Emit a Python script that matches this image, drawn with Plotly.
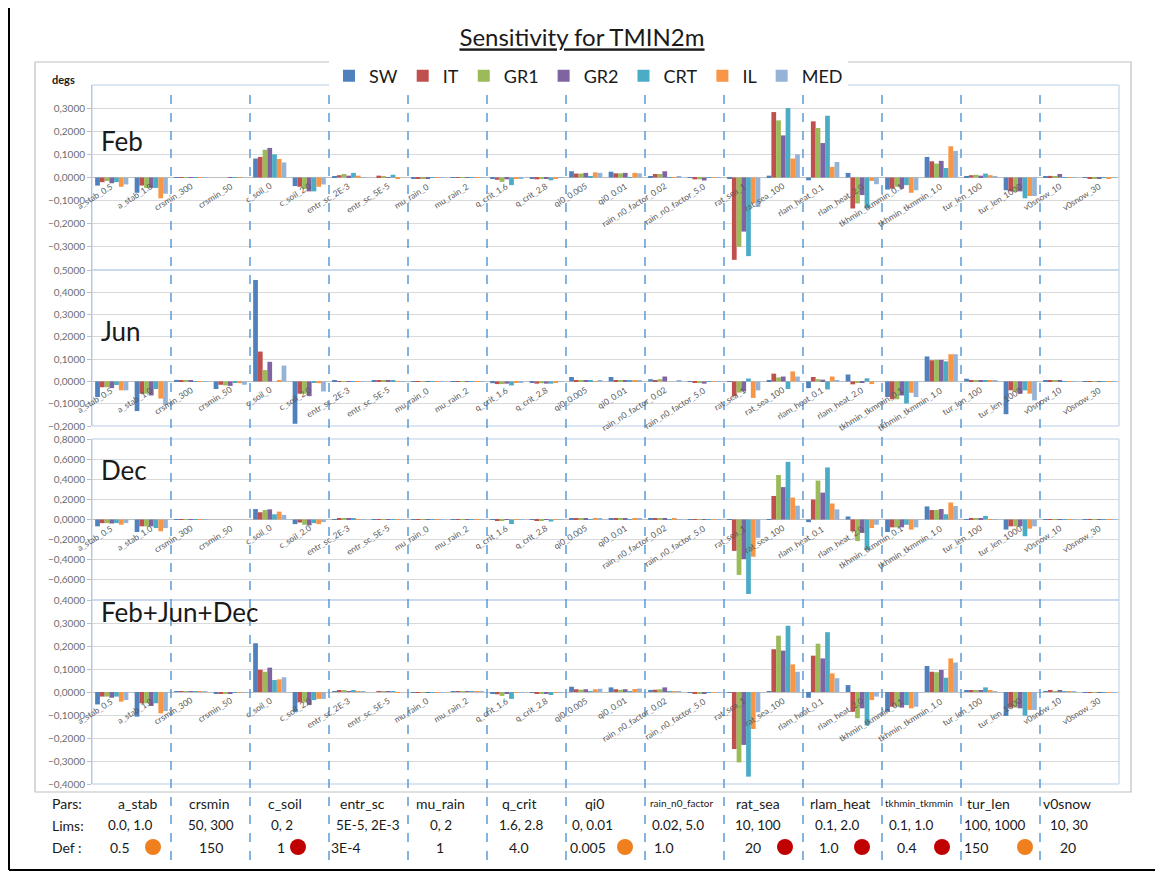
import plotly.graph_objects as go

# the page body has an 8px margin, so the figure is a bit smaller than the window
OFF = 8
FW, FH = 1163 - OFF, 874 - OFF

CATEGORIES = ["a_stab_0.5", "a_stab_1.0", "crsmin_300", "crsmin_50", "c_soil_0", "c_soil_2.0",
              "entr_sc_2E-3", "entr_sc_5E-5", "mu_rain_0", "mu_rain_2", "q_crit_1.6", "q_crit_2.8",
              "qi0_0.005", "qi0_0.01", "rain_n0_factor_0.02", "rain_n0_factor_5.0", "rat_sea_1",
              "rat_sea_100", "rlam_heat_0.1", "rlam_heat_2.0", "tkhmin_tkmmin_0.1", "tkhmin_tkmmin_1.0",
              "tur_len_100", "tur_len_1000", "v0snow_10", "v0snow_30"]
SERIES = ["SW", "IT", "GR1", "GR2", "CRT", "IL", "MED"]
COLORS = ["#4F81BD", "#C0504D", "#9BBB59", "#8064A2", "#4BACC6", "#F79646", "#95B3D7"]

# Feb
FEB_SW = [-0.035, -0.066, 0.002, 0.0, 0.082, -0.037, 0.003, 0.0, -0.003, 0.001, -0.005, -0.003, 0.027, 0.025, 0.004, -0.002, -0.005, 0.008, -0.012, 0.020, -0.052, 0.089, 0.005, -0.055, 0.005, -0.002]
FEB_IT = [-0.020, -0.035, 0.001, 0.0, 0.089, -0.040, 0.010, 0.008, -0.004, 0.002, -0.010, -0.008, 0.017, 0.018, 0.015, -0.008, -0.356, 0.283, 0.243, -0.134, -0.048, 0.070, 0.010, -0.060, 0.007, -0.003]
FEB_GR1 = [-0.015, -0.045, 0.001, 0.0, 0.120, -0.050, 0.015, 0.005, -0.003, 0.002, -0.019, -0.006, 0.017, 0.018, 0.015, -0.008, -0.300, 0.247, 0.214, -0.112, -0.040, 0.060, 0.012, -0.062, 0.006, -0.003]
FEB_GR2 = [-0.025, -0.045, 0.001, 0.001, 0.128, -0.060, 0.008, 0.002, -0.004, 0.001, -0.008, -0.004, 0.020, 0.020, 0.027, -0.013, -0.234, 0.182, 0.149, -0.076, -0.048, 0.072, 0.008, -0.060, 0.015, -0.003]
FEB_CRT = [-0.020, -0.045, 0.002, 0.001, 0.100, -0.060, 0.020, 0.012, -0.002, 0.001, -0.033, -0.012, 0.003, 0.002, 0.001, -0.002, -0.340, 0.300, 0.267, -0.134, -0.033, 0.041, 0.017, -0.090, 0.001, -0.002]
FEB_IL = [-0.040, -0.090, 0.001, 0.001, 0.080, -0.040, 0.008, -0.005, -0.001, 0.001, -0.005, -0.004, 0.022, 0.020, 0.001, -0.002, -0.112, 0.082, 0.046, -0.015, -0.066, 0.135, 0.010, -0.080, -0.002, -0.003]
FEB_MED = [-0.030, -0.070, 0.001, 0.0, 0.065, -0.030, 0.002, 0.0, -0.001, 0.001, -0.003, -0.002, 0.020, 0.018, 0.003, -0.001, -0.127, 0.100, 0.067, -0.029, -0.055, 0.115, 0.004, -0.080, -0.001, -0.002]

# Jun
JUN_SW = [-0.070, -0.133, 0.007, -0.034, 0.455, -0.190, 0.002, 0.002, -0.002, -0.001, -0.008, -0.006, 0.020, 0.020, 0.010, -0.002, -0.002, 0.002, -0.030, 0.031, -0.070, 0.112, 0.012, -0.147, 0.004, -0.001]
JUN_IT = [-0.026, -0.055, 0.003, -0.015, 0.134, -0.055, 0.001, 0.002, -0.002, -0.001, -0.012, -0.010, 0.005, 0.006, 0.006, -0.004, -0.066, 0.035, 0.020, -0.013, -0.080, 0.095, 0.006, -0.040, 0.002, -0.001]
JUN_GR1 = [-0.026, -0.055, 0.003, -0.018, 0.051, -0.055, 0.001, 0.002, -0.002, -0.001, -0.012, -0.008, 0.003, 0.003, 0.010, -0.004, -0.050, 0.018, 0.010, -0.005, -0.080, 0.097, 0.005, -0.045, 0.003, -0.001]
JUN_GR2 = [-0.030, -0.063, 0.003, -0.020, 0.088, -0.066, 0.001, 0.002, -0.002, -0.001, -0.010, -0.010, 0.006, 0.006, 0.022, -0.010, -0.045, 0.022, 0.008, -0.005, -0.063, 0.097, 0.006, -0.055, 0.004, -0.001]
JUN_CRT = [-0.016, -0.034, 0.001, -0.003, 0.0, -0.003, 0.001, 0.004, -0.001, -0.001, -0.018, -0.010, 0.002, 0.002, 0.0, -0.002, 0.013, -0.034, -0.036, 0.014, -0.099, 0.090, 0.005, -0.040, 0.001, -0.001]
JUN_IL = [-0.040, -0.077, 0.001, -0.008, 0.003, -0.008, 0.001, 0.001, -0.001, -0.001, -0.005, -0.003, 0.001, 0.002, 0.0, -0.002, -0.074, 0.045, 0.022, -0.012, -0.051, 0.122, 0.005, -0.055, 0.001, -0.001]
JUN_MED = [-0.040, -0.106, 0.001, -0.015, 0.071, -0.045, 0.001, 0.001, -0.001, -0.001, -0.003, -0.002, 0.003, 0.002, 0.002, -0.002, -0.040, 0.022, 0.003, 0.0, -0.070, 0.122, 0.004, -0.085, 0.001, -0.001]

# Dec
DEC_SW = [-0.068, -0.124, 0.003, 0.0, 0.104, -0.046, 0.003, 0.001, -0.001, 0.001, -0.005, -0.002, 0.015, 0.013, 0.008, -0.002, -0.005, 0.005, -0.026, 0.030, -0.124, 0.130, 0.004, -0.100, 0.003, -0.001]
DEC_IT = [-0.036, -0.068, 0.003, 0.0, 0.072, -0.030, 0.006, 0.003, -0.001, 0.001, -0.010, -0.006, 0.008, 0.008, 0.010, -0.004, -0.312, 0.234, 0.199, -0.117, -0.078, 0.094, 0.006, -0.068, 0.003, -0.001]
DEC_GR1 = [-0.036, -0.068, 0.003, 0.0, 0.094, -0.052, 0.006, 0.003, -0.001, 0.001, -0.012, -0.006, 0.010, 0.010, 0.010, -0.004, -0.550, 0.442, 0.387, -0.215, -0.078, 0.094, 0.006, -0.068, 0.003, -0.001]
DEC_GR2 = [-0.040, -0.068, 0.003, 0.0, 0.101, -0.058, 0.006, 0.003, -0.001, 0.001, -0.005, -0.004, 0.008, 0.008, 0.012, -0.005, -0.393, 0.322, 0.267, -0.133, -0.078, 0.104, 0.006, -0.068, 0.003, -0.001]
DEC_CRT = [-0.036, -0.085, 0.002, 0.0, 0.052, -0.036, 0.008, 0.004, -0.001, 0.001, -0.045, -0.020, 0.002, 0.002, 0.002, -0.001, -0.740, 0.573, 0.517, -0.306, -0.052, 0.052, 0.036, -0.166, 0.001, -0.001]
DEC_IL = [-0.052, -0.117, 0.003, 0.0, 0.078, -0.046, 0.004, 0.002, -0.001, 0.001, -0.003, -0.002, 0.010, 0.010, 0.008, -0.001, -0.370, 0.218, 0.159, -0.085, -0.101, 0.169, 0.004, -0.091, 0.004, -0.001]
DEC_MED = [-0.036, -0.085, 0.002, 0.0, 0.046, -0.026, 0.002, 0.001, -0.001, 0.001, -0.002, -0.001, 0.008, 0.008, 0.003, -0.001, -0.182, 0.137, 0.101, -0.052, -0.078, 0.134, 0.002, -0.068, 0.001, -0.001]

# Feb+Jun+Dec
ALL_SW = [-0.054, -0.107, 0.003, -0.008, 0.212, -0.086, 0.002, 0.0, -0.002, 0.001, -0.005, -0.003, 0.023, 0.020, 0.009, -0.002, -0.003, 0.004, -0.025, 0.030, -0.086, 0.113, 0.005, -0.104, 0.004, -0.001]
ALL_IT = [-0.020, -0.049, 0.002, -0.005, 0.097, -0.045, 0.005, 0.003, -0.002, 0.001, -0.010, -0.008, 0.012, 0.012, 0.010, -0.005, -0.248, 0.186, 0.158, -0.086, -0.064, 0.088, 0.008, -0.068, 0.005, -0.001]
ALL_GR1 = [-0.020, -0.049, 0.002, -0.005, 0.088, -0.045, 0.006, 0.003, -0.002, 0.001, -0.017, -0.006, 0.010, 0.010, 0.012, -0.005, -0.306, 0.245, 0.210, -0.114, -0.064, 0.086, 0.008, -0.068, 0.004, -0.001]
ALL_GR2 = [-0.025, -0.061, 0.002, -0.005, 0.106, -0.057, 0.003, 0.001, -0.002, 0.001, -0.008, -0.005, 0.012, 0.012, 0.020, -0.008, -0.230, 0.180, 0.146, -0.071, -0.068, 0.096, 0.007, -0.071, 0.006, -0.001]
ALL_CRT = [-0.020, -0.049, 0.001, -0.001, 0.052, -0.035, 0.008, 0.004, -0.001, 0.001, -0.030, -0.013, 0.002, 0.002, 0.001, -0.001, -0.368, 0.288, 0.260, -0.146, -0.057, 0.062, 0.020, -0.103, 0.001, -0.001]
ALL_IL = [-0.042, -0.093, 0.001, -0.003, 0.055, -0.030, 0.003, -0.001, -0.001, 0.001, -0.003, -0.002, 0.012, 0.013, 0.002, -0.002, -0.161, 0.120, 0.081, -0.035, -0.071, 0.146, 0.006, -0.078, 0.001, -0.001]
ALL_MED = [-0.035, -0.083, 0.001, -0.004, 0.064, -0.030, 0.001, 0.0, -0.001, 0.001, -0.002, -0.001, 0.014, 0.015, 0.003, -0.001, -0.088, 0.088, 0.060, -0.020, -0.064, 0.128, 0.003, -0.078, 0.001, -0.001]

PANEL_NAMES = ["Feb", "Jun", "Dec", "Feb+Jun+Dec"]
PANEL_DATA = [
    [FEB_SW, FEB_IT, FEB_GR1, FEB_GR2, FEB_CRT, FEB_IL, FEB_MED],
    [JUN_SW, JUN_IT, JUN_GR1, JUN_GR2, JUN_CRT, JUN_IL, JUN_MED],
    [DEC_SW, DEC_IT, DEC_GR1, DEC_GR2, DEC_CRT, DEC_IL, DEC_MED],
    [ALL_SW, ALL_IT, ALL_GR1, ALL_GR2, ALL_CRT, ALL_IL, ALL_MED],
]
Y_RANGES = [(-0.4, 0.4), (-0.2, 0.5), (-0.8, 0.8), (-0.4, 0.4)]
Y_TICKS = [[-0.3, -0.2, -0.1, 0, 0.1, 0.2, 0.3],
           [-0.2, -0.1, 0, 0.1, 0.2, 0.3, 0.4, 0.5],
           [-0.6, -0.4, -0.2, 0, 0.2, 0.4, 0.6, 0.8],
           [-0.4, -0.3, -0.2, -0.1, 0, 0.1, 0.2, 0.3, 0.4]]

# table under the chart
PARS = ["a_stab", "crsmin", "c_soil", "entr_sc", "mu_rain", "q_crit", "qi0", "rain_n0_factor",
        "rat_sea", "rlam_heat", "tkhmin_tkmmin", "tur_len", "v0snow"]
LIMS = ["0.0, 1.0", "50, 300", "0, 2", "5E-5, 2E-3", "0, 2", "1.6, 2.8", "0, 0.01", "0.02, 5.0",
        "10, 100", "0.1, 2.0", "0.1, 1.0", "100, 1000", "10, 30"]
DEFS = ["0.5", "150", "1", "3E-4", "1", "4.0", "0.005", "1.0", "20", "1.0", "0.4", "150", "20"]
DOTS = ["orange", None, "red", None, None, None, "orange", None, "red", "red", "red", "orange", None]

FONT = "Lato, 'Open Sans', sans-serif"
TXT = "#595959"
DARK = "#1A1A1A"


def px_x(x):
    return (x - OFF) / FW


def px_y(y):
    return 1 - (y - OFF) / FH


# layout in reference pixels
X0, X1 = 92, 1119
PANEL_PX = [(85, 270), (270, 426), (439, 600), (600, 784)]
NAME_POS = [0.70, 0.61, 0.81, 0.935]
PAR_X = [137, 209, 285, 363, 440, 519, 594, 682, 758, 840, 919, 989, 1067]
LIM_X = [130, 211, 282, 368, 441, 521, 592, 678, 758, 837, 911, 995, 1069]
DEF_X = [120, 211, 281, 346, 440, 519, 588, 664, 753, 829, 907, 976, 1068]
DOT_X = [153, None, 298, None, None, None, 625, None, 785, 862, 942, 1025, None]
ROW_Y = [803, 825, 847]

fig = go.Figure()
annotations = []
shapes = []

for p, (name, data) in enumerate(zip(PANEL_NAMES, PANEL_DATA)):
    n = p + 1
    sfx = "" if n == 1 else str(n)
    for s, vals in enumerate(data):
        fig.add_trace(go.Bar(
            x=CATEGORIES, y=vals, name=SERIES[s], marker_color=COLORS[s],
            marker_line_width=0, xaxis="x" + sfx, yaxis="y" + sfx,
            legendgroup=SERIES[s], showlegend=(p == 0),
        ))
    top, bot = PANEL_PX[p]
    fig.update_layout(**{
        "xaxis" + sfx: dict(
            domain=[px_x(X0), px_x(X1)], anchor="y" + sfx, type="category",
            range=[-0.5, len(CATEGORIES) - 0.5], showticklabels=False,
            showgrid=False, zeroline=False, showline=False, fixedrange=True,
        ),
        "yaxis" + sfx: dict(
            domain=[px_y(bot), px_y(top)], anchor="x" + sfx, range=list(Y_RANGES[p]),
            tickvals=Y_TICKS[p], tickformat=".4f", showgrid=True, gridcolor="#D9D9D9",
            gridwidth=1, zeroline=True, zerolinecolor="#BFBFBF", zerolinewidth=1,
            showline=True, linecolor="#BFBFBF", ticks="outside", ticklen=4,
            tickcolor="#BFBFBF", tickfont=dict(size=10, color="#6E6E6E", family=FONT),
            automargin=False,
        ),
    })
    # panel frame
    shapes.append(dict(type="rect", xref="x%s domain" % sfx, yref="y%s domain" % sfx,
                       x0=0, x1=1, y0=0, y1=1, line=dict(color="#B9CDE5", width=1)))
    # panel name
    annotations.append(dict(text=name, xref="x%s domain" % sfx, yref="y%s domain" % sfx,
                            x=0.007, y=NAME_POS[p], xanchor="left", yanchor="middle",
                            showarrow=False, font=dict(size=26, color=DARK, family=FONT)))
    # category labels sitting on the zero line
    for c in CATEGORIES:
        annotations.append(dict(text=c, x=c, y=0, xref="x" + sfx, yref="y" + sfx,
                                xanchor="right", yanchor="top", textangle=-32,
                                xshift=6, yshift=-1, showarrow=False,
                                font=dict(size=8.5, color=TXT, family=FONT)))

# dashed separators between parameter groups
for k in range(1, len(PARS)):
    xb = 2 * k - 0.5
    shapes.append(dict(type="line", xref="x4", yref="paper", x0=xb, x1=xb,
                       y0=px_y(860), y1=px_y(88), layer="above",
                       line=dict(color="#5B9BD5", width=1.5, dash="dash")))

# outer frames
shapes.append(dict(type="rect", xref="paper", yref="paper", x0=px_x(35), x1=px_x(1131),
                   y0=px_y(792), y1=px_y(62), line=dict(color="#BFBFBF", width=1.2), layer="below"))
for x0, y0, x1, y1 in [(9, 8, 9, 870), (1157, 8, 1157, 870), (9, 870, 1157, 870)]:
    shapes.append(dict(type="line", xref="paper", yref="paper", x0=px_x(x0), x1=px_x(x1),
                       y0=px_y(y0), y1=px_y(y1), line=dict(color="#000000", width=2)))


def table_text(text, x, y, size=14, anchor="center"):
    annotations.append(dict(text=text, x=px_x(x), y=px_y(y), xref="paper", yref="paper",
                            xanchor=anchor, yanchor="middle", showarrow=False,
                            font=dict(size=size, color=DARK, family=FONT)))


# table rows
for label, ry in zip(["Pars:", "Lims:", "Def :"], ROW_Y):
    table_text(label, 50, ry, anchor="left")
for i, (par, lim, dv, dot) in enumerate(zip(PARS, LIMS, DEFS, DOTS)):
    small = par in ("rain_n0_factor", "tkhmin_tkmmin")
    table_text(par, PAR_X[i], ROW_Y[0], size=10 if small else 14)
    table_text(lim, LIM_X[i], ROW_Y[1], size=13.5)
    table_text(dv, DEF_X[i], ROW_Y[2])
    if dot:
        col = "#F07F1D" if dot == "orange" else "#C00000"
        cx = DOT_X[i]
        shapes.append(dict(type="circle", xref="paper", yref="paper",
                           x0=px_x(cx - 8), x1=px_x(cx + 8),
                           y0=px_y(ROW_Y[2] + 8), y1=px_y(ROW_Y[2] - 8),
                           fillcolor=col, line=dict(color=col, width=0)))

annotations.append(dict(text="<b>degs</b>", x=px_x(50), y=px_y(79), xref="paper", yref="paper",
                        xanchor="left", yanchor="middle", showarrow=False,
                        font=dict(size=11, color=DARK, family=FONT)))

fig.update_layout(
    width=FW, height=FH, margin=dict(l=0, r=0, t=0, b=0, autoexpand=False),
    paper_bgcolor="white", plot_bgcolor="white",
    separators=", ", barmode="group", bargap=0.16, bargroupgap=0,
    font=dict(family=FONT),
    title=dict(text="<u>Sensitivity for TMIN2m</u>", x=px_x(582), xanchor="center",
               y=px_y(38), yanchor="middle", font=dict(size=24, color=DARK, family=FONT)),
    legend=dict(orientation="h", x=px_x(329), y=px_y(76), xanchor="left", yanchor="middle",
                bgcolor="white", font=dict(size=18, color=DARK, family=FONT),
                itemwidth=30, traceorder="normal"),
    annotations=annotations, shapes=shapes,
)

fig.write_html("out.html")
